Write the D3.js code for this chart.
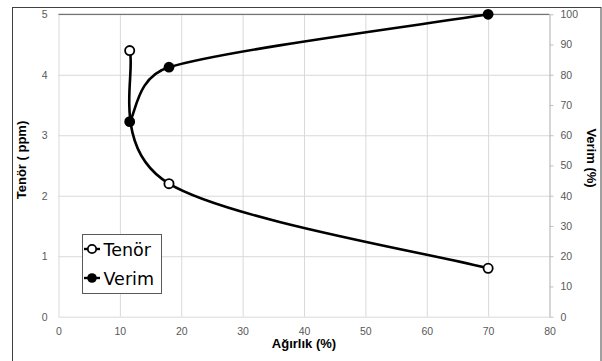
<!DOCTYPE html>
<html>
    <head>
        <meta charset="utf-8">
        <script src="https://d3js.org/d3.v7.min.js"></script>
        <style>
            body { margin: 0; background: #fff; }
            .tick text { font-family: 'Liberation Sans', Arial, sans-serif; font-size: 10.5px; fill: #595959; }
            .grid line { stroke: #d9d9d9; stroke-width: 1; }
            .grid path { display: none; }
        </style>
    </head>
    <body>
        <script type='text/javascript'>
            var w = 602;
            var h = 361;

            // data
            var agirlik = [11.6, 18, 70];
            var tenor = [4.4, 2.2, 0.8];
            var verim = [64.5, 82.5, 100];
            var xTicks = [0, 10, 20, 30, 40, 50, 60, 70, 80];
            var leftTicks = [0, 1, 2, 3, 4, 5];
            var rightTicks = [0, 10, 20, 30, 40, 50, 60, 70, 80, 90, 100];

            // plot box (note: "top" is taken by window.top, so use other names)
            var pLeft = 58.5, pRight = 549.5, pTop = 14.3, pBottom = 316.7;

            var xScale = d3.scaleLinear().domain([0, 80]).range([pLeft, pRight]);
            var yScale = d3.scaleLinear().domain([0, 5]).range([pBottom, pTop]);
            var y2Scale = d3.scaleLinear().domain([0, 100]).range([pBottom, pTop]);

            var svg = d3.select('body')
                        .append('svg')
                        .attr('width', w)
                        .attr('height', h);

            svg.append('rect').attr('width', w).attr('height', h).attr('fill', '#fff');

            // outer chart frame (cut off at the bottom)
            svg.append('rect')
                .attr('x', 12.5).attr('y', 7.5)
                .attr('width', 588.5).attr('height', 400)
                .attr('fill', 'none')
                .attr('stroke', '#404040')
                .attr('stroke-width', 1);

            //Grid lines
            svg.append('g')
                .attr('class', 'grid')
                .attr('transform', 'translate(0,' + pBottom + ')')
                .call(d3.axisBottom(xScale).tickValues(xTicks).tickSize(-(pBottom - pTop)).tickFormat(''));

            svg.append('g')
                .attr('class', 'grid')
                .attr('transform', 'translate(' + pLeft + ',0)')
                .call(d3.axisLeft(yScale).tickValues(leftTicks).tickSize(-(pRight - pLeft)).tickFormat(''));

            // top border of plot
            svg.append('line')
                .attr('x1', pLeft).attr('x2', pRight)
                .attr('y1', pTop).attr('y2', pTop)
                .attr('stroke', '#595959');

            //Axes
            var xAxis = svg.append('g')
                .attr('transform', 'translate(0,' + pBottom + ')')
                .call(d3.axisBottom(xScale).tickValues(xTicks).tickFormat(d3.format('d')).tickSize(0).tickPadding(11));
            xAxis.select('.domain').remove();

            var yAxis = svg.append('g')
                .attr('transform', 'translate(' + pLeft + ',0)')
                .call(d3.axisLeft(yScale).tickValues(leftTicks).tickFormat(d3.format('d')).tickSize(0).tickPadding(11));
            yAxis.select('.domain').remove();

            var y2Axis = svg.append('g')
                .attr('transform', 'translate(' + pRight + ',0)')
                .call(d3.axisRight(y2Scale).tickValues(rightTicks).tickFormat(d3.format('d')).tickSize(4).tickSizeOuter(0).tickPadding(7));
            y2Axis.selectAll('line').attr('stroke', '#bfbfbf');
            y2Axis.select('.domain').attr('stroke', '#bfbfbf');

            //Axis titles
            var titleFont = "'Liberation Sans', Arial, sans-serif";
            svg.append('text')
                .text('Ağırlık (%)')
                .attr('x', 304).attr('y', 348)
                .attr('text-anchor', 'middle')
                .attr('font-family', titleFont)
                .attr('font-weight', 'bold')
                .attr('font-size', '13px');

            svg.append('text')
                .text('Tenör ( ppm)')
                .attr('transform', 'translate(26,160) rotate(-90)')
                .attr('text-anchor', 'middle')
                .attr('font-family', titleFont)
                .attr('font-weight', 'bold')
                .attr('font-size', '13px');

            svg.append('text')
                .text('Verim (%)')
                .attr('transform', 'translate(587,158) rotate(90)')
                .attr('text-anchor', 'middle')
                .attr('font-family', titleFont)
                .attr('font-weight', 'bold')
                .attr('font-size', '13px');

            // smoothed line like the spreadsheet one: bezier with clamped tangents
            function smoothPath(pts) {
                var p = d3.path();
                p.moveTo(pts[0][0], pts[0][1]);
                for (var i = 0; i < pts.length - 1; i++) {
                    var p0 = pts[i - 1] || pts[i],
                        p1 = pts[i],
                        p2 = pts[i + 1],
                        p3 = pts[i + 2] || pts[i + 1];
                    var d = Math.hypot(p2[0] - p1[0], p2[1] - p1[1]);
                    var t1 = [(p2[0] - p0[0]) / 6, (p2[1] - p0[1]) / 6];
                    var t2 = [(p3[0] - p1[0]) / 6, (p3[1] - p1[1]) / 6];
                    var l1 = Math.hypot(t1[0], t1[1]), l2 = Math.hypot(t2[0], t2[1]);
                    if (l1 > d / 2) { t1 = [t1[0] * d / 2 / l1, t1[1] * d / 2 / l1]; }
                    if (l2 > d / 2) { t2 = [t2[0] * d / 2 / l2, t2[1] * d / 2 / l2]; }
                    p.bezierCurveTo(p1[0] + t1[0], p1[1] + t1[1],
                                    p2[0] - t2[0], p2[1] - t2[1],
                                    p2[0], p2[1]);
                }
                return p.toString();
            }

            var tenorPts = agirlik.map(function(d, i) { return [xScale(d), yScale(tenor[i])]; });
            var verimPts = agirlik.map(function(d, i) { return [xScale(d), y2Scale(verim[i])]; });

            svg.append('path')
                .attr('d', smoothPath(tenorPts))
                .attr('fill', 'none')
                .attr('stroke', '#000')
                .attr('stroke-width', 2.6);

            svg.append('path')
                .attr('d', smoothPath(verimPts))
                .attr('fill', 'none')
                .attr('stroke', '#000')
                .attr('stroke-width', 2.6);

            svg.selectAll('circle.tenor')
                .data(tenorPts)
                .enter()
                .append('circle')
                .attr('class', 'tenor')
                .attr('cx', function(d) { return d[0]; })
                .attr('cy', function(d) { return d[1]; })
                .attr('r', 4.6)
                .attr('fill', '#fff')
                .attr('stroke', '#000')
                .attr('stroke-width', 1.8);

            svg.selectAll('circle.verim')
                .data(verimPts)
                .enter()
                .append('circle')
                .attr('class', 'verim')
                .attr('cx', function(d) { return d[0]; })
                .attr('cy', function(d) { return d[1]; })
                .attr('r', 5.4)
                .attr('fill', '#000');

            //Legend
            var legend = svg.append('g');
            legend.append('rect')
                .attr('x', 82.5).attr('y', 234.5)
                .attr('width', 79).attr('height', 59)
                .attr('fill', '#fff')
                .attr('stroke', '#595959');

            var items = [{name: 'Tenör', y: 249, open: true}, {name: 'Verim', y: 278, open: false}];
            items.forEach(function(it) {
                legend.append('line')
                    .attr('x1', 84).attr('x2', 100)
                    .attr('y1', it.y).attr('y2', it.y)
                    .attr('stroke', '#000').attr('stroke-width', 2.4);
                legend.append('circle')
                    .attr('cx', 92).attr('cy', it.y)
                    .attr('r', it.open ? 4.2 : 4.8)
                    .attr('fill', it.open ? '#fff' : '#000')
                    .attr('stroke', '#000')
                    .attr('stroke-width', it.open ? 1.8 : 0);
                legend.append('text')
                    .text(it.name)
                    .attr('x', 103.5).attr('y', it.y + 6.5)
                    .attr('font-family', "'DejaVu Sans', sans-serif")
                    .attr('font-size', '17.5px')
                    .attr('fill', '#000');
            });
        </script>
    </body>
</html>
